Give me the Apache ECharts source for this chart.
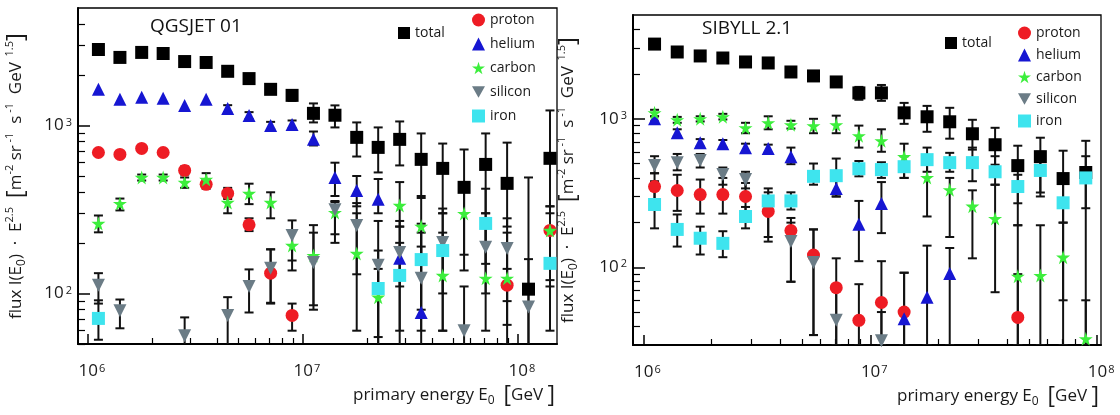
<!DOCTYPE html>
<html>
<head>
<meta charset="utf-8">
<script src="https://cdn.jsdelivr.net/npm/echarts@6/dist/echarts.min.js"></script>
<style>
  html, body { margin: 0; padding: 0; background: #fff; }
  #chart { width: 1120px; height: 415px; }
</style>
</head>
<body>
<div id="chart"></div>
<script>
// energy bins (GeV), 0.1 decade wide
const energyL = [1.12e6, 1.41e6, 1.78e6, 2.24e6, 2.82e6, 3.55e6, 4.47e6, 5.62e6, 7.08e6, 8.91e6,
                 1.12e7, 1.41e7, 1.78e7, 2.24e7, 2.82e7, 3.55e7, 4.47e7, 5.62e7, 7.08e7, 8.91e7,
                 1.12e8, 1.41e8];
const energyR = [1.12e6, 1.41e6, 1.78e6, 2.24e6, 2.82e6, 3.55e6, 4.47e6, 5.62e6, 7.08e6, 8.91e6,
                 1.12e7, 1.41e7, 1.78e7, 2.24e7, 2.82e7, 3.55e7, 4.47e7, 5.62e7, 7.08e7, 8.91e7];

// ---- QGSJET 01 (left) ----
const totalL = [2830, 2540, 2720, 2680, 2400, 2370, 2100, 1900, 1640, 1510, 1180, 1150, 849, 740, 826, 628, 555, 428, 586, 452, 106, 637];
const totalErrL = [[2720, 2950], [2440, 2650], [2610, 2840], [2570, 2800], [2290, 2520], [2260, 2490], [1990, 2220], [1790, 2020], [1540, 1740], [1400, 1620],
                   [1042, 1352], [973, 1316], [653, 1042], [525, 973], [578, 1056], [380, 896], [300, 780], [137, 719], [300, 896], [250, 790], [40, 490], [110, 1228]];
const protonL = [690, 672, 730, 690, 540, 446, 394, 256, 132, 74, null, null, null, null, null, null, null, null, null, 112, null, 237];
const protonErrL = [null, null, null, null, [510, 570], [420, 475], [365, 425], [235, 280], [88, 183], [60, 87], null, null, null, null, null, null, null, null, null, [65, 140], null, [120, 330]];
const heliumL = [1640, 1430, 1470, 1450, 1316, 1430, 1262, 1147, 1000, 1014, 826, 490, 410, 363, 162, 77, null, null, null, null, null, null];
const heliumErrL = [null, null, null, null, null, null, [1200, 1320], [1090, 1200], [950, 1050], [960, 1070], [760, 920], [380, 600], [330, 500], [300, 480], [40, 250], [40, 190], null, null, null, null, null, null];
const carbonL = [261, 343, 490, 490, 458, 477, 348, 394, 348, 193, 168, 303, 173, 95, 334, 251, 128, 299, 123, 123, null, 237];
const carbonErrL = [[231, 291], [312, 367], [470, 510], [470, 510], [425, 490], [440, 520], [300, 400], [340, 450], [280, 400], [137, 237],
                    [85, 255], [225, 350], [60, 300], [40, 140], [250, 460], [150, 370], [60, 230], [170, 420], [60, 250], [50, 230], null, [150, 330]];
const siliconL = [112, 79, null, null, 56, null, 74, 110, 141, 221, 153, 315, 254, 147, 175, 123, 201, 60, 188, 185, 83, null];
const siliconErrL = [[87, 132], [62, 92], null, null, [40, 72], null, [40, 95], [77, 139], [87, 183], [157, 272],
                     [80, 230], [200, 355], [130, 345], [55, 270], [110, 270], [60, 230], [100, 300], [40, 110], [100, 300], [90, 280], [40, 160], null];
const ironL = [71, null, null, null, null, null, null, null, null, null, null, null, null, 107, 128, 159, 180, null, 261, null, null, 151];
const ironErrL = [[53, 91], null, null, null, null, null, null, null, null, null, null, null, null, [40, 180], [60, 200], [80, 260], [60, 320], null, [150, 420], null, null, [60, 300]];

// ---- SIBYLL 2.1 (right) ----
const totalR = [3185, 2818, 2650, 2567, 2414, 2377, 2067, 1944, 1771, 1494, 1494, 1097, 1032, 955, 793, 669, 484, 556, 396, 435];
const totalErrR = [[3070, 3300], [2710, 2930], [2550, 2760], [2470, 2670], [2320, 2510], [2280, 2470], [1970, 2170], [1850, 2040], [1640, 1900], [1343, 1640],
                   [1321, 1690], [925, 1280], [818, 1222], [735, 1186], [620, 985], [491, 870], [192, 659], [319, 746], [30, 610], [30, 711]];
const protonR = [350, 329, 309, 309, 300, 238, 177, 121, 73, 44, 58, 50, null, null, null, null, 46, null, null, null];
const protonErrR = [[270, 430], [240, 420], [230, 390], [230, 400], [230, 370], [160, 320], [80, 215], [35, 180], [30, 115], [30, 77], [30, 110], [30, 92], null, null, null, null, [30, 90], null, null, null];
const heliumR = [1000, 805, 690, 680, 638, 630, 556, null, 339, 195, 269, 45, 63, 91, null, null, null, null, null, null];
const heliumErrR = [[960, 1040], [760, 850], [650, 730], [640, 720], [600, 680], [590, 670], [495, 640], null, [300, 420], [110, 280], [170, 375], [30, 92], [30, 140], [30, 135], null, null, null, null, null, null];
const carbonR = [1097, 985, 1000, 1032, 870, 940, 912, 898, 912, 769, 711, 556, 402, 333, 258, 213, 87, 88, 117, 33];
const carbonErrR = [[1040, 1150], [940, 1030], [960, 1040], [990, 1080], [800, 940], [850, 1040], [860, 970], [800, 1000], [800, 1050], [640, 900],
                    [600, 850], [400, 680], [220, 560], [160, 400], [115, 330], [68, 360], [30, 192], [30, 192], [60, 200], [30, 60]];
const siliconR = [484, 507, 523, 421, 390, null, 149, 108, 44, null, 32, null, null, null, null, null, null, null, null, null];
const siliconErrR = [[430, 560], [450, 580], [470, 580], [360, 470], [340, 440], null, [80, 200], [35, 180], [30, 75], null, [30, 50], null, null, null, null, null, null, null, null, null];
const ironR = [265, 180, 157, 145, 220, 280, 280, 410, 414, 461, 455, 476, 531, 507, 507, 440, 350, 449, 272, 400];
const ironErrR = [[183, 380], [138, 227], [122, 188], [117, 175], [183, 255], [149, 340], [245, 320], [360, 500], [300, 540], [410, 520],
                  [400, 510], [400, 560], [440, 640], [440, 590], [380, 640], [360, 560], [270, 420], [300, 600], [200, 380], [250, 560]];

// axis ticks
const xMajorTicks = [1e6, 1e7, 1e8];
const xMinorTicks = [2e6, 3e6, 4e6, 5e6, 6e6, 7e6, 8e6, 9e6, 2e7, 3e7, 4e7, 5e7, 6e7, 7e7, 8e7, 9e7];
const yMajorTicks = [100, 1000];
const yMinorTicks = [40, 50, 60, 70, 80, 90, 200, 300, 400, 500, 600, 700, 800, 900, 2000, 3000, 4000];

const FONT = '"Open Sans", "DejaVu Sans", sans-serif';
const TXT = '#1a1a1a';

const comps = [
  { name: 'total',   color: '#000000', symbol: 'rect',     size: 13, rot: 0 },
  { name: 'proton',  color: '#ee1c24', symbol: 'circle',   size: 13, rot: 0 },
  { name: 'helium',  color: '#1616d2', symbol: 'triangle', size: 13, rot: 0 },
  { name: 'carbon',  color: '#3cee3c', symbol: 'path://M50,0L61,35L98,35L68,57L79,91L50,70L21,91L32,57L2,35L39,35Z', size: 14, rot: 0 },
  { name: 'silicon', color: '#6b7c86', symbol: 'triangle', size: 13, rot: 180 },
  { name: 'iron',    color: '#3ee4ee', symbol: 'rect',     size: 13, rot: 0 }
];
const legendIcons = {
  proton: 'circle', helium: 'triangle',
  carbon: 'path://M50,0L61,35L98,35L68,57L79,91L50,70L21,91L32,57L2,35L39,35Z',
  silicon: 'path://M0,0L10,0L5,9Z', iron: 'rect'
};

function errBar(params, api) {
  const x = api.value(0);
  const top = api.coord([x, api.value(2)]);
  const bot = api.coord([x, api.value(1)]);
  const w = 4.5;
  const st = { stroke: '#111', lineWidth: 2 };
  return {
    type: 'group',
    children: [
      { type: 'line', shape: { x1: top[0], y1: top[1], x2: bot[0], y2: bot[1] }, style: st },
      { type: 'line', shape: { x1: top[0] - w, y1: top[1], x2: top[0] + w, y2: top[1] }, style: st },
      { type: 'line', shape: { x1: bot[0] - w, y1: bot[1], x2: bot[0] + w, y2: bot[1] }, style: st }
    ]
  };
}

function buildSeries(p, energy, vals, errs) {
  const out = [];
  comps.forEach((c, ci) => {
    const pts = [], bars = [];
    energy.forEach((e, i) => {
      if (vals[ci][i] != null) pts.push([e, vals[ci][i]]);
      if (errs[ci][i]) bars.push([e, errs[ci][i][0], errs[ci][i][1]]);
    });
    out.push({
      type: 'custom', name: c.name + ' err', xAxisIndex: 2 * p, yAxisIndex: 2 * p,
      renderItem: errBar, data: bars, encode: { x: 0, y: [1, 2] },
      clip: true, silent: true, z: 2
    });
    out.push({
      type: 'scatter', name: c.name, xAxisIndex: 2 * p, yAxisIndex: 2 * p,
      data: pts, symbol: c.symbol, symbolSize: c.size, symbolRotate: c.rot,
      itemStyle: { color: c.color, opacity: 1 }, clip: true, silent: true, z: 3
    });
  });
  return out;
}

function powLabel(v) {
  return '{b|10}{s|' + Math.round(Math.log10(v)) + '}';
}

function xAxesFor(grid, min, max) {
  return [{
    type: 'log', logBase: 10, gridIndex: grid, min: min, max: max, position: 'bottom',
    axisLine: { onZero: false, lineStyle: { color: '#000', width: 2 } },
    axisTick: { inside: true, length: 10, customValues: xMajorTicks, lineStyle: { color: '#000', width: 1.5 } },
    axisLabel: {
      customValues: xMajorTicks, formatter: powLabel, margin: 19, color: TXT,
      rich: {
        b: { fontFamily: FONT, fontSize: 17, color: TXT, padding: [0, 0, 0, 8] },
        s: { fontFamily: FONT, fontSize: 11, color: TXT, verticalAlign: 'top', padding: [0, 0, 0, 1] }
      }
    },
    splitLine: { show: false },
    nameLocation: 'end', nameGap: -2,
    name: '{t|primary energy E}{sub|0}{t|  }{br|[}{t|GeV }{br|]}',
    nameTextStyle: {
      align: 'right', verticalAlign: 'top', padding: [40, 0, 0, 0],
      rich: {
        t: { fontFamily: FONT, fontSize: 17, color: TXT },
        sub: { fontFamily: FONT, fontSize: 12, color: TXT, verticalAlign: 'bottom' },
        br: { fontFamily: FONT, fontSize: 23, color: TXT }
      }
    }
  }, {
    type: 'log', logBase: 10, gridIndex: grid, min: min, max: max, position: 'bottom',
    axisLine: { show: false },
    axisTick: { inside: true, length: 6, customValues: xMinorTicks, lineStyle: { color: '#000', width: 1.2 } },
    axisLabel: { show: false },
    splitLine: { show: false }
  }];
}

function yAxesFor(grid, min, max, gap) {
  return [{
    type: 'log', logBase: 10, gridIndex: grid, min: min, max: max, position: 'left',
    axisLine: { onZero: false, lineStyle: { color: '#000', width: 2 } },
    axisTick: { inside: true, length: 12, customValues: yMajorTicks, lineStyle: { color: '#000', width: 1.5 } },
    axisLabel: {
      customValues: yMajorTicks, formatter: powLabel, margin: 6, color: TXT,
      rich: {
        b: { fontFamily: FONT, fontSize: 17, color: TXT },
        s: { fontFamily: FONT, fontSize: 11, color: TXT, verticalAlign: 'top', padding: [0, 0, 0, 2] }
      }
    },
    splitLine: { show: false },
    nameLocation: 'middle', nameRotate: 90, nameGap: gap,
    name: '{t|flux I(E}{sub|0}{t|)  ·  E}{sup|2.5}{t|  }{br|[}{t|m}{sup|-2}{t| sr}{sup| -1}{t|  s}{sup| -1}{t|  GeV}{sup|  1.5}{br|]}',
    nameTextStyle: {
      rich: {
        t: { fontFamily: FONT, fontSize: 17, color: TXT },
        sub: { fontFamily: FONT, fontSize: 12, color: TXT, verticalAlign: 'bottom' },
        sup: { fontFamily: FONT, fontSize: 11, color: TXT, verticalAlign: 'top' },
        br: { fontFamily: FONT, fontSize: 24, color: TXT }
      }
    }
  }, {
    type: 'log', logBase: 10, gridIndex: grid, min: min, max: max, position: 'left',
    axisLine: { show: false },
    axisTick: { inside: true, length: 7, customValues: yMinorTicks, lineStyle: { color: '#000', width: 1.2 } },
    axisLabel: { show: false },
    splitLine: { show: false }
  }];
}

function legendsFor(totalPos, listPos, gap) {
  const txt = { fontFamily: FONT, fontSize: 14, color: TXT };
  return [{
    left: totalPos[0], top: totalPos[1], padding: 0, selectedMode: false,
    itemWidth: 12, itemHeight: 12, textStyle: txt,
    data: [{ name: 'total', icon: 'rect' }]
  }, {
    left: listPos[0], top: listPos[1], padding: 0, orient: 'vertical', selectedMode: false,
    itemWidth: 13, itemHeight: 13, itemGap: gap, textStyle: txt,
    data: ['proton', 'helium', 'carbon', 'silicon', 'iron'].map(n => ({ name: n, icon: legendIcons[n] }))
  }];
}

const chart = echarts.init(document.getElementById('chart'), null, { renderer: 'canvas' });

const option = {
  backgroundColor: '#fff',
  animation: false,
  title: [
    { text: 'QGSJET 01', left: 150, top: 17, padding: 0, textStyle: { fontFamily: FONT, fontSize: 19, fontWeight: 'normal', color: '#111' } },
    { text: 'SIBYLL 2.1', left: 702, top: 19, padding: 0, textStyle: { fontFamily: FONT, fontSize: 19, fontWeight: 'normal', color: '#111' } }
  ],
  grid: [
    { left: 78, top: 8, width: 479, height: 336, show: true, borderColor: '#000', borderWidth: 1.3, backgroundColor: 'transparent' },
    { left: 633, top: 15, width: 468, height: 330, show: true, borderColor: '#000', borderWidth: 1.3, backgroundColor: 'transparent' }
  ],
  xAxis: [...xAxesFor(0, 9e5, 1.52e8), ...xAxesFor(1, 9e5, 1.04e8)],
  yAxis: [...yAxesFor(0, 50, 5000, 50), ...yAxesFor(1, 30, 5000, 53)],
  legend: [...legendsFor([398, 26], [472, 13], 10), ...legendsFor([945, 36], [1018, 26], 8)],
  series: [
    ...buildSeries(0, energyL,
      [totalL, protonL, heliumL, carbonL, siliconL, ironL],
      [totalErrL, protonErrL, heliumErrL, carbonErrL, siliconErrL, ironErrL]),
    ...buildSeries(1, energyR,
      [totalR, protonR, heliumR, carbonR, siliconR, ironR],
      [totalErrR, protonErrR, heliumErrR, carbonErrR, siliconErrR, ironErrR])
  ]
};

chart.setOption(option);
</script>
</body>
</html>
